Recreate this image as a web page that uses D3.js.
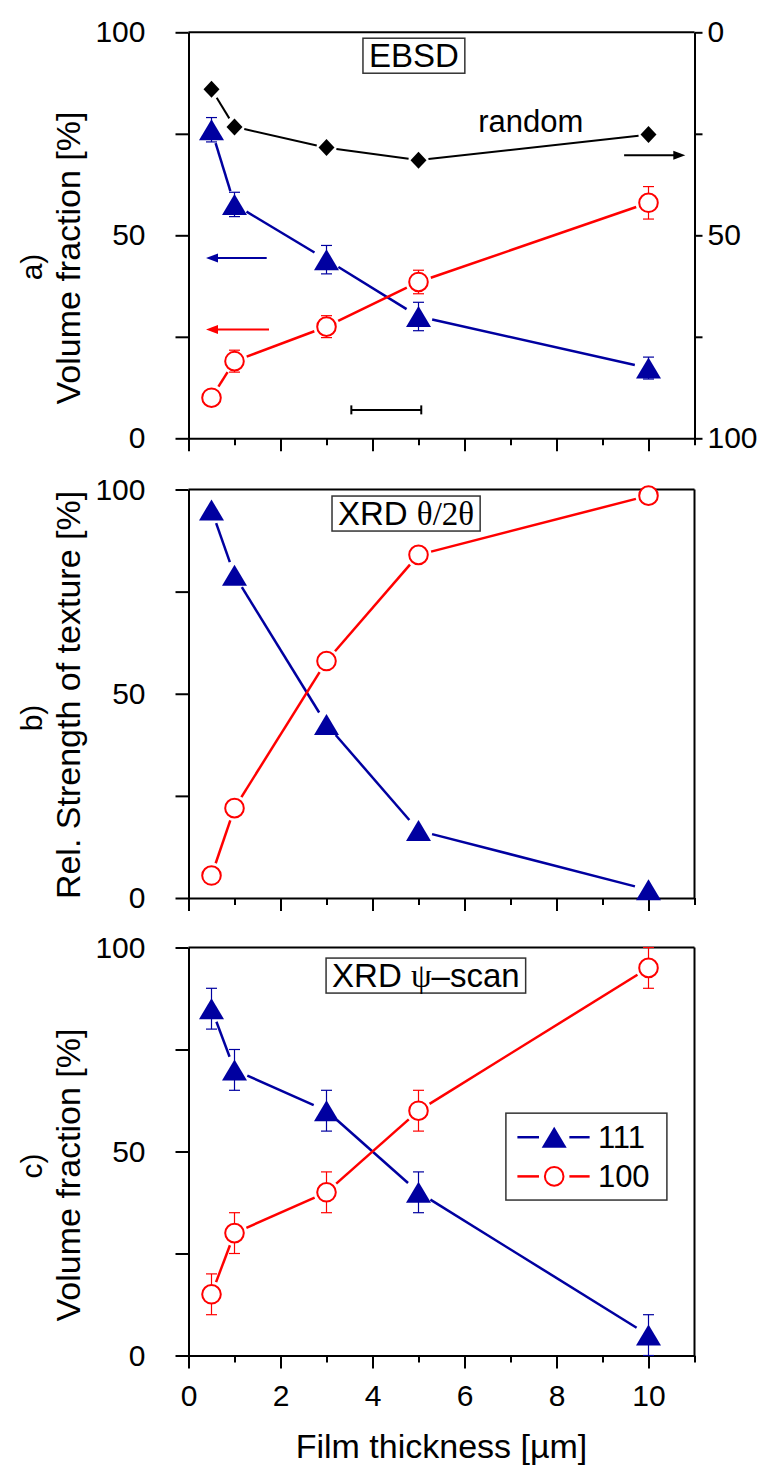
<!DOCTYPE html>
<html><head><meta charset="utf-8">
<script src="https://cdn.jsdelivr.net/npm/d3@7"></script>
<style>
body{margin:0;background:#fff}
svg{display:block}
text{font-family:"Liberation Sans",Arial,sans-serif;fill:#000}
.serif{font-family:"Liberation Serif","Times New Roman",serif}
</style>
</head><body>
<svg id="chart" width="763" height="1467"></svg>
<script>
// ---------- data ----------
const thickness = [0.5, 1, 3, 5, 10];

// a) EBSD
const ebsd111 = [76, 57.6, 44, 30, 17.3];
const ebsd111Err = [3, 3, 3.5, 3.5, 2.7];
const ebsd100 = [10, 19, 27.5, 38.5, 58];
const ebsd100Err = [1.5, 2.7, 2.7, 2.9, 4];
const ebsdRandom = [14, 23.3, 28.4, 31.5, 25.2];   // right axis (reversed)

// b) XRD theta/2theta
const xrd111 = [95, 79, 42.5, 16.5, 2];
const xrd100 = [5.5, 22, 58, 84, 98.5];

// c) XRD psi-scan
const psi111 = [85, 70, 60, 40, 5];
const psi111Err = [5, 5, 5, 5, 5];
const psi100 = [15, 30, 40, 60, 95];
const psi100Err = [5, 5, 5, 5, 5];

const xMajorTicks = [0, 2, 4, 6, 8, 10];
const xMinorTicks = [1, 3, 5, 7, 9, 11];
const yTicks = [0, 25, 50, 75, 100];
const yLabelTicks = [0, 50, 100];

const seriesNames = ["111", "100"];
const panelLabels = ["a)", "b)", "c)"];
const yTitles = ["Volume fraction [%]", "Rel. Strength of texture [%]", "Volume fraction [%]"];
const xTitle = "Film thickness [\u00b5m]";

// ---------- layout ----------
const BLUE = "#0000a0", RED = "#ff0000";
const svg = d3.select("#chart");
const x = d3.scaleLinear().domain([0, 11]).range([188.5, 694.5]);

const panels = [
  {top: 32.3, bottom: 438.3, titleY: 258, labelY: 267},
  {top: 489.5, bottom: 898, titleY: 695, labelY: 718},
  {top: 947.5, bottom: 1355.5, titleY: 1175, labelY: 1166}
];
panels.forEach(p => { p.y = d3.scaleLinear().domain([0, 100]).range([p.bottom, p.top]); });

const TRI = "M0,-10.5L12.5,10.5L-12.5,10.5Z";
const DIA = "M0,-8.5L8,0L0,8.5L-8,0Z";

function frame(i, showLabels, rightAxis) {
  const p = panels[i];
  const g = svg.append("g");
  const la = g.append("g").attr("transform", `translate(${x.range()[0]},0)`)
    .call(d3.axisLeft(p.y).tickValues(yTicks).tickSize(13).tickSizeOuter(0).tickPadding(30)
      .tickFormat(d => yLabelTicks.includes(d) ? d : ""));
  const ba = g.append("g").attr("transform", `translate(0,${p.bottom})`)
    .call(d3.axisBottom(x).tickValues(xMajorTicks).tickSize(13).tickSizeOuter(0).tickPadding(16.5)
      .tickFormat(d => showLabels ? d : ""));
  const bm = g.append("g").attr("transform", `translate(0,${p.bottom})`)
    .call(d3.axisBottom(x).tickValues(xMinorTicks).tickSize(7).tickSizeOuter(0).tickFormat(""));
  [la, ba, bm].forEach(a => {
    a.selectAll("path,line").attr("stroke", "#000").attr("stroke-width", 2);
    a.selectAll("text").attr("font-size", 30).attr("fill", "#000");
  });
  bm.select(".domain").remove();
  g.append("line").attr("x1", x(0)).attr("x2", x(11)).attr("y1", p.top).attr("y2", p.top)
    .attr("stroke", "#000").attr("stroke-width", 2);
  if (rightAxis) {
    const ra = g.append("g").attr("transform", `translate(${x(11)},0)`)
      .call(d3.axisRight(rightAxis).tickValues(yTicks).tickSize(8).tickSizeOuter(0).tickPadding(5)
        .tickFormat(d => yLabelTicks.includes(d) ? d : ""));
    ra.selectAll("path,line").attr("stroke", "#000").attr("stroke-width", 2);
    ra.selectAll("text").attr("font-size", 30).attr("fill", "#000");
  } else {
    g.append("line").attr("x1", x(11)).attr("x2", x(11)).attr("y1", p.top).attr("y2", p.bottom)
      .attr("stroke", "#000").attr("stroke-width", 2);
  }
  svg.append("text").attr("transform", `translate(80,${p.titleY}) rotate(-90)`)
    .attr("text-anchor", "middle").attr("font-size", 34).text(yTitles[i]);
  svg.append("text").attr("transform", `translate(42,${p.labelY}) rotate(-90)`)
    .attr("text-anchor", "middle").attr("font-size", 30).text(panelLabels[i]);
}

function gapLine(g, xs, ys, sx, sy, gap, color, width) {
  const pts = xs.map((v, k) => [sx(v), sy(ys[k])]);
  const line = d3.line();
  for (let k = 0; k < pts.length - 1; k++) {
    const [x0, y0] = pts[k], [x1, y1] = pts[k + 1];
    const dx = x1 - x0, dy = y1 - y0, len = Math.hypot(dx, dy);
    if (len <= 2 * gap) continue;
    const ux = dx / len, uy = dy / len;
    g.append("path").attr("d", line([[x0 + ux * gap, y0 + uy * gap], [x1 - ux * gap, y1 - uy * gap]]))
      .attr("stroke", color).attr("stroke-width", width).attr("fill", "none");
  }
}

function errBars(g, xs, ys, errs, sy, color) {
  xs.forEach((v, k) => {
    const cx = x(v), lo = sy(ys[k] - errs[k]), hi = sy(ys[k] + errs[k]);
    g.append("line").attr("x1", cx).attr("x2", cx).attr("y1", lo).attr("y2", hi)
      .attr("stroke", color).attr("stroke-width", 1.2);
    [lo, hi].forEach(yy => g.append("line").attr("x1", cx - 5.5).attr("x2", cx + 5.5)
      .attr("y1", yy).attr("y2", yy).attr("stroke", color).attr("stroke-width", 1.2));
  });
}

function markers(g, xs, ys, sy, kind) {
  xs.forEach((v, k) => {
    const t = `translate(${x(v)},${sy(ys[k])})`;
    if (kind === "tri") g.append("path").attr("d", TRI).attr("transform", t).attr("fill", BLUE);
    else if (kind === "circ") g.append("circle").attr("cx", x(v)).attr("cy", sy(ys[k])).attr("r", 9.3)
      .attr("fill", "#fff").attr("stroke", RED).attr("stroke-width", 2);
    else g.append("path").attr("d", DIA).attr("transform", t).attr("fill", "#000");
  });
}

function series(g, ys, errs, sy, kind) {
  const color = kind === "tri" ? BLUE : RED;
  gapLine(g, thickness, ys, x, sy, kind === "tri" ? 14 : 13, color, 2.5);
  if (errs) errBars(g, thickness, ys, errs, sy, color);
  markers(g, thickness, ys, sy, kind);
}

function boxedTitle(g, cx, baseY, parts) {
  const t = g.append("text").attr("x", cx).attr("y", baseY).attr("text-anchor", "middle").attr("font-size", 33);
  parts.forEach(pt => t.append("tspan").attr("class", pt.serif ? "serif" : null).text(pt.s));
  const bb = t.node().getBBox();
  g.insert("rect", "text").attr("x", bb.x - 6).attr("y", bb.y + 1).attr("width", bb.width + 12)
    .attr("height", bb.height - 2).attr("fill", "#fff").attr("stroke", "#333").attr("stroke-width", 1.5);
}

function arrow(g, x0, x1, yy, color) {
  const X0 = x(x0), X1 = x(x1);
  const dir = Math.sign(X1 - X0);
  g.append("line").attr("x1", X0).attr("x2", X1 - dir * 8).attr("y1", yy).attr("y2", yy)
    .attr("stroke", color).attr("stroke-width", 2);
  g.append("path").attr("d", `M${X1},${yy}L${X1 - dir * 12},${yy - 4.5}L${X1 - dir * 12},${yy + 4.5}Z`)
    .attr("fill", color);
}

// ---------- panel a ----------
{
  const p = panels[0];
  const yR = d3.scaleLinear().domain([0, 100]).range([p.top, p.bottom]);
  frame(0, false, yR);
  const g = svg.append("g");
  boxedTitle(g, x(4.9), p.y(91.4), [{s: "EBSD"}]);
  g.append("text").attr("x", x(6.3)).attr("y", yR(24.6)).attr("font-size", 31).text("random");
  gapLine(g, thickness, ebsdRandom, x, yR, 10, "#000", 2);
  markers(g, thickness, ebsdRandom, yR, "dia");
  series(g, ebsd111, ebsd111Err, p.y, "tri");
  series(g, ebsd100, ebsd100Err, p.y, "circ");
  arrow(g, 1.7, 0.38, p.y(44.4), BLUE);
  arrow(g, 1.75, 0.38, p.y(26.8), RED);
  arrow(g, 9.47, 10.8, yR(30.3), "#000");
  const sb = [3.54, 5.06], sy = p.y(7);
  g.append("line").attr("x1", x(sb[0])).attr("x2", x(sb[1])).attr("y1", sy).attr("y2", sy)
    .attr("stroke", "#000").attr("stroke-width", 2);
  sb.forEach(v => g.append("line").attr("x1", x(v)).attr("x2", x(v)).attr("y1", sy - 4.5).attr("y2", sy + 4.5)
    .attr("stroke", "#000").attr("stroke-width", 2));
}

// ---------- panel b ----------
{
  const p = panels[1];
  frame(1, false, null);
  const g = svg.append("g");
  boxedTitle(g, x(4.73), p.y(91.3), [{s: "XRD "}, {s: "\u03b8/2\u03b8", serif: true}]);
  series(g, xrd111, null, p.y, "tri");
  series(g, xrd100, null, p.y, "circ");
}

// ---------- panel c ----------
{
  const p = panels[2];
  frame(2, true, null);
  const g = svg.append("g");
  boxedTitle(g, x(5.16), p.y(90.3), [{s: "XRD "}, {s: "\u03c8", serif: true}, {s: "\u2013scan"}]);
  series(g, psi111, psi111Err, p.y, "tri");
  series(g, psi100, psi100Err, p.y, "circ");
  const lg = svg.append("g");
  lg.append("rect").attr("x", x(6.9)).attr("y", p.y(59.4)).attr("width", x(10.4) - x(6.9))
    .attr("height", p.y(38.1) - p.y(59.4)).attr("fill", "#fff").attr("stroke", "#333").attr("stroke-width", 1.5);
  const rows = [53.5, 43.9];
  rows.forEach((rv, k) => {
    const yy = p.y(rv), color = k === 0 ? BLUE : RED;
    [[7.15, 7.62], [8.28, 8.72]].forEach(([a, b]) =>
      lg.append("line").attr("x1", x(a)).attr("x2", x(b)).attr("y1", yy).attr("y2", yy)
        .attr("stroke", color).attr("stroke-width", 2.5));
    if (k === 0) lg.append("path").attr("d", TRI).attr("transform", `translate(${x(7.95)},${yy})`).attr("fill", BLUE);
    else lg.append("circle").attr("cx", x(7.95)).attr("cy", yy).attr("r", 9.3).attr("fill", "#fff")
      .attr("stroke", RED).attr("stroke-width", 2);
    lg.append("text").attr("x", x(8.9)).attr("y", yy + 11).attr("font-size", 31).text(seriesNames[k]);
  });
  svg.append("text").attr("x", (x(0) + x(11)) / 2).attr("y", 1458).attr("text-anchor", "middle")
    .attr("font-size", 34).text(xTitle);
}
</script>
</body></html>
